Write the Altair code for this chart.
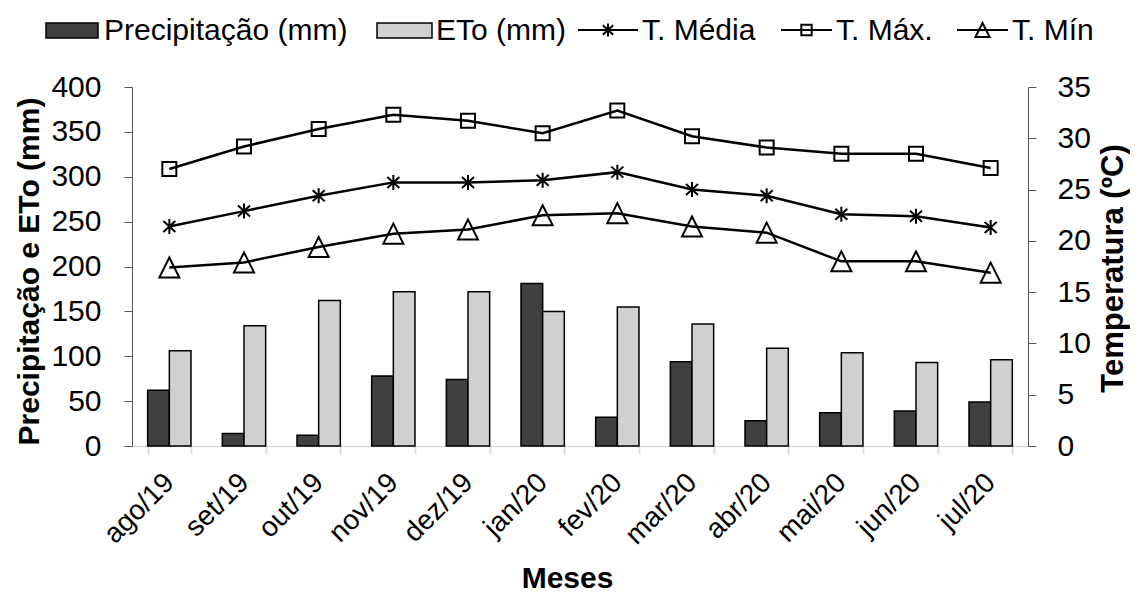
import altair as alt
import pandas as pd

# ---------------- data ----------------
months = ["ago/19", "set/19", "out/19", "nov/19", "dez/19", "jan/20",
          "fev/20", "mar/20", "abr/20", "mai/20", "jun/20", "jul/20"]
precip = [62, 14, 12, 78, 74, 181, 32, 94, 28, 37, 39, 49]
eto = [106, 134, 162, 172, 172, 150, 155, 136, 109, 104, 93, 96]
t_med = [21.4, 22.9, 24.4, 25.7, 25.7, 25.9, 26.7, 25.0, 24.4, 22.6, 22.4, 21.3]
t_max = [27.0, 29.2, 30.9, 32.3, 31.7, 30.5, 32.7, 30.2, 29.1, 28.5, 28.5, 27.1]
t_min = [17.4, 17.9, 19.4, 20.7, 21.1, 22.5, 22.7, 21.4, 20.8, 18.0, 18.0, 16.9]

bar_series = ["Precipitação (mm)", "ETo (mm)"]
temp_series = ["T. Média", "T. Máx.", "T. Mín"]
left_ticks = [0, 50, 100, 150, 200, 250, 300, 350, 400]
right_ticks = [0, 5, 10, 15, 20, 25, 30, 35]

bar_df = pd.DataFrame({
    "Mês": months * 2,
    "Série": [bar_series[0]] * 12 + [bar_series[1]] * 12,
    "Valor": precip + eto,
})
temp_df = pd.DataFrame({
    "Mês": months * 3,
    "Série": [temp_series[0]] * 12 + [temp_series[1]] * 12 + [temp_series[2]] * 12,
    "Temp": t_med + t_max + t_min,
})

# ---------------- styles ----------------
FONT = "Liberation Sans"
DARK = "#404040"
LIGHT = "#d0cfd2"
AXIS_GRAY = "#595959"
STAR = "M0,-0.75V0.75M-0.6,-0.55L0.6,0.55M-0.6,0.55L0.6,-0.55"
SQUARE = "M-0.7,-0.7H0.7V0.7H-0.7Z"
TRI = "M0,-1L1,1L-1,1Z"

x_axis = alt.Axis(
    title="Meses", titleFont=FONT, titleFontSize=30, titleFontWeight="bold",
    titleColor="black", titleX=435, titleY=141, titleBaseline="alphabetic",
    titleAlign="center",
    labelAngle=-45, labelAlign="right", labelBaseline="middle",
    labelFont=FONT, labelFontSize=28, labelColor="black", labelPadding=24,
    tickBand="extent", tickSize=8, tickColor="#d9d9d9", tickWidth=1.5,
    domainColor="#d9d9d9", domainWidth=1.5, grid=False,
)
x_scale = alt.Scale(paddingInner=0.42, paddingOuter=0.21)
x_enc = alt.X("Mês:N", sort=months, scale=x_scale, axis=x_axis)

bars = alt.Chart(bar_df).mark_bar(stroke="black", strokeWidth=1.5).encode(
    x=x_enc,
    xOffset=alt.XOffset("Série:N", sort=bar_series,
                        scale=alt.Scale(paddingInner=0, paddingOuter=0)),
    y=alt.Y("Valor:Q", scale=alt.Scale(domain=[0, 400], nice=False),
            axis=alt.Axis(values=left_ticks, grid=False, domainColor=AXIS_GRAY,
                          tickColor=AXIS_GRAY, tickSize=8, labelFont=FONT,
                          labelFontSize=30, labelColor="black", labelPadding=23,
                          title="Precipitação e ETo (mm)", titleFont=FONT,
                          titleFontSize=30, titleFontWeight="bold",
                          titleColor="black", titleAngle=270,
                          titleBaseline="bottom", titleAlign="center",
                          titleX=-88, titleY=184)),
    fill=alt.Fill("Série:N", scale=alt.Scale(domain=bar_series, range=[DARK, LIGHT]),
                  legend=None),
)

y_temp = alt.Y("Temp:Q", scale=alt.Scale(domain=[0, 35], nice=False),
               axis=alt.Axis(orient="right", values=right_ticks, grid=False,
                             domainColor=AXIS_GRAY, tickColor=AXIS_GRAY, tickSize=8,
                             labelFont=FONT, labelFontSize=30, labelColor="black",
                             labelPadding=21, title="Temperatura (ºC)",
                             titleFont=FONT, titleFontSize=31,
                             titleFontWeight="bold", titleColor="black",
                             titleAngle=270, titleBaseline="bottom",
                             titleAlign="center", titleX=101, titleY=181))

lines = alt.Chart(temp_df).mark_line(color="black", strokeWidth=2.5).encode(
    x=x_enc, y=y_temp, detail="Série:N"
)
points = alt.Chart(temp_df).mark_point(
    filled=False, stroke="black", strokeWidth=2, opacity=1, size=400
).encode(
    x=x_enc, y=y_temp,
    shape=alt.Shape("Série:N", scale=alt.Scale(domain=temp_series,
                                               range=[STAR, SQUARE, TRI]),
                    legend=None),
)
temps = alt.layer(lines, points)

# ---------------- manual legend (top) ----------------
one = alt.Data(values=[{}])
LY = -57  # legend row centre (chart coordinates)
legend_layers = []
for x0, x1, col in [(-86, -34, DARK), (245, 300, LIGHT)]:
    legend_layers.append(
        alt.Chart(one).mark_rect(fill=col, stroke="black", strokeWidth=1.5).encode(
            x=alt.value(x0), x2=alt.value(x1), y=alt.value(LY - 7), y2=alt.value(LY + 8)))
for x0, x1, shape, size in [(446, 506, STAR, 300), (649, 700, SQUARE, 220), (825, 876, TRI, 200)]:
    legend_layers.append(
        alt.Chart(one).mark_rule(color="black", strokeWidth=2).encode(
            x=alt.value(x0), x2=alt.value(x1), y=alt.value(LY)))
    legend_layers.append(
        alt.Chart(one).mark_point(shape=shape, size=size, filled=False, stroke="black",
                                  strokeWidth=2, opacity=1).encode(
            x=alt.value((x0 + x1) / 2), y=alt.value(LY)))
for tx, label in [(-28, bar_series[0]), (304, bar_series[1]), (510, temp_series[0]),
                  (704, temp_series[1]), (880, temp_series[2])]:
    legend_layers.append(
        alt.Chart(one).mark_text(align="left", baseline="alphabetic", font=FONT,
                                 fontSize=30, color="black").encode(
            x=alt.value(tx), y=alt.value(-47), text=alt.value(label)))

main = alt.layer(bars, temps).resolve_scale(y="independent")

chart = alt.layer(main, *legend_layers).properties(
    width=896, height=359,
    padding={"left": 124, "top": 79, "right": 102, "bottom": 147},
    autosize="none",
    background="white",
).configure_view(stroke=None)

chart.save("out.html", embed_options={"renderer": "svg", "actions": False})
